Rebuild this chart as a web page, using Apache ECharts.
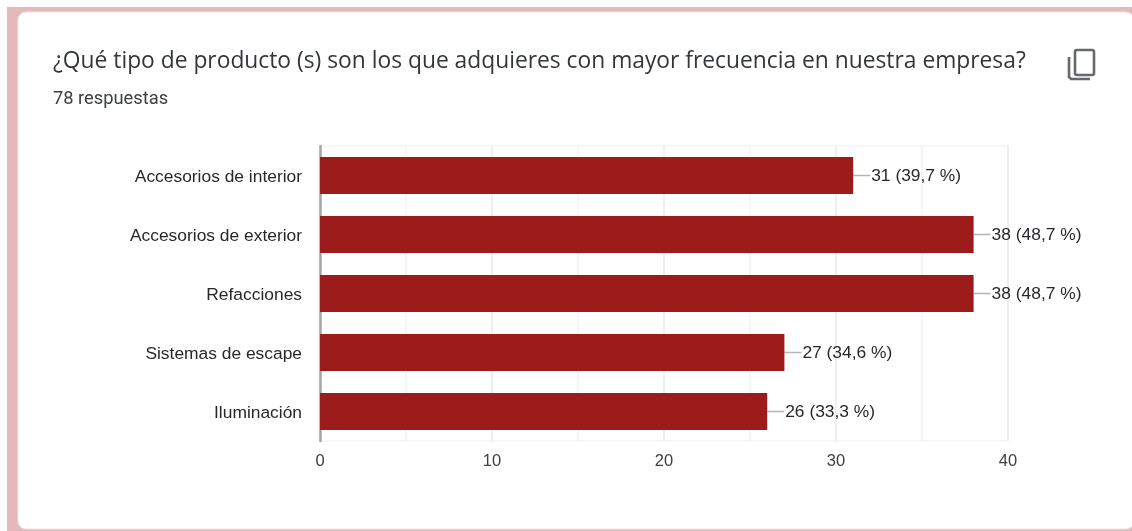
<!DOCTYPE html>
<html>
<head>
<meta charset="utf-8">
<style>
html, body { margin: 0; padding: 0; background: #fff; }
#chart { width: 1132px; height: 531px; }
</style>
<script src="https://cdn.jsdelivr.net/npm/echarts@6/dist/echarts.min.js"></script>
</head>
<body>
<div id="chart"></div>
<script>
// Survey question and response data
const questionTitle = '¿Qué tipo de producto (s) son los que adquieres con mayor frecuencia en nuestra empresa?';
const responseNote = '78 respuestas';
const categories = ['Accesorios de interior', 'Accesorios de exterior', 'Refacciones', 'Sistemas de escape', 'Iluminación'];
const counts = [31, 38, 38, 27, 26];
const shares = ['39,7', '48,7', '48,7', '34,6', '33,3'];

const BAR_RED = '#9c1c1c';
const CONNECTOR_LENGTH = 17;

const chart = echarts.init(document.getElementById('chart'), null, { renderer: 'canvas' });

chart.setOption({
  animation: false,
  backgroundColor: '#ffffff',
  textStyle: { fontFamily: 'Liberation Sans' },
  graphic: [
    // Page backdrop and the rounded response card
    { type: 'rect', z: -10, shape: { x: 7, y: 7, width: 1125, height: 524 }, style: { fill: '#e4b9b9' } },
    { type: 'rect', z: -9, shape: { x: 18, y: 12, width: 1116, height: 517, r: [8, 8, 8, 8] },
      style: { fill: '#ffffff', stroke: '#e8e8ea', lineWidth: 1 } },
    // Copy icon in the card's top right corner
    { type: 'rect', z: 5, shape: { x: 1075, y: 50, width: 19, height: 25, r: 2 },
      style: { fill: 'none', stroke: '#65696d', lineWidth: 2.6 } },
    { type: 'polyline', z: 5, shape: { points: [[1069, 57], [1069, 77], [1071, 79], [1090, 79]] },
      style: { fill: 'none', stroke: '#65696d', lineWidth: 2.6 } },
    // Question heading and response count
    { type: 'text', z: 5, left: 53, top: 50,
      style: { text: questionTitle, fill: '#33373b', font: '22.8px "Open Sans"' } },
    { type: 'text', z: 5, left: 53, top: 90,
      style: { text: responseNote, fill: '#3c4043', font: '18.3px Roboto' } }
  ],
  grid: {
    left: 320, right: 124, top: 146, bottom: 90,
    show: true, borderColor: '#efefef', borderWidth: 1
  },
  xAxis: {
    type: 'value',
    min: 0,
    max: 40,
    interval: 10,
    minorTick: { show: false, splitNumber: 2 },
    axisLine: { show: false },
    axisTick: { show: false },
    axisLabel: { color: '#3c4043', fontSize: 16.5, margin: 12 },
    splitLine: { show: true, lineStyle: { color: '#ebebeb', width: 1.5 } },
    minorSplitLine: { show: true, lineStyle: { color: '#f3f3f3', width: 1.5 } }
  },
  yAxis: {
    type: 'category',
    data: categories,
    inverse: true,
    axisLine: { show: true, lineStyle: { color: '#a6a6a6', width: 2.5 } },
    axisTick: { show: false },
    axisLabel: {
      margin: 18,
      formatter: '{name|{value}}',
      rich: { name: { color: '#26282b', fontSize: 17.4, padding: [4, 0, 0, 0] } }
    }
  },
  series: [
    {
      type: 'bar',
      data: counts,
      barWidth: 37,
      z: 3,
      itemStyle: { color: BAR_RED },
      label: {
        show: true,
        position: 'right',
        distance: CONNECTOR_LENGTH + 1,
        offset: [0, 1],
        color: '#26282b',
        fontSize: 17.4,
        formatter: p => `${counts[p.dataIndex]} (${shares[p.dataIndex]} %)`
      }
    },
    {
      // Short leader line between each bar end and its label
      type: 'custom',
      z: 2,
      silent: true,
      data: counts.map((v, i) => [v, i]),
      encode: { x: 0, y: 1 },
      renderItem: (params, api) => {
        const start = api.coord([api.value(0), api.value(1)]);
        return {
          type: 'line',
          shape: { x1: start[0], y1: start[1], x2: start[0] + CONNECTOR_LENGTH, y2: start[1] },
          style: { stroke: '#b5b5b5', lineWidth: 1.5 }
        };
      }
    }
  ]
});
</script>
</body>
</html>
